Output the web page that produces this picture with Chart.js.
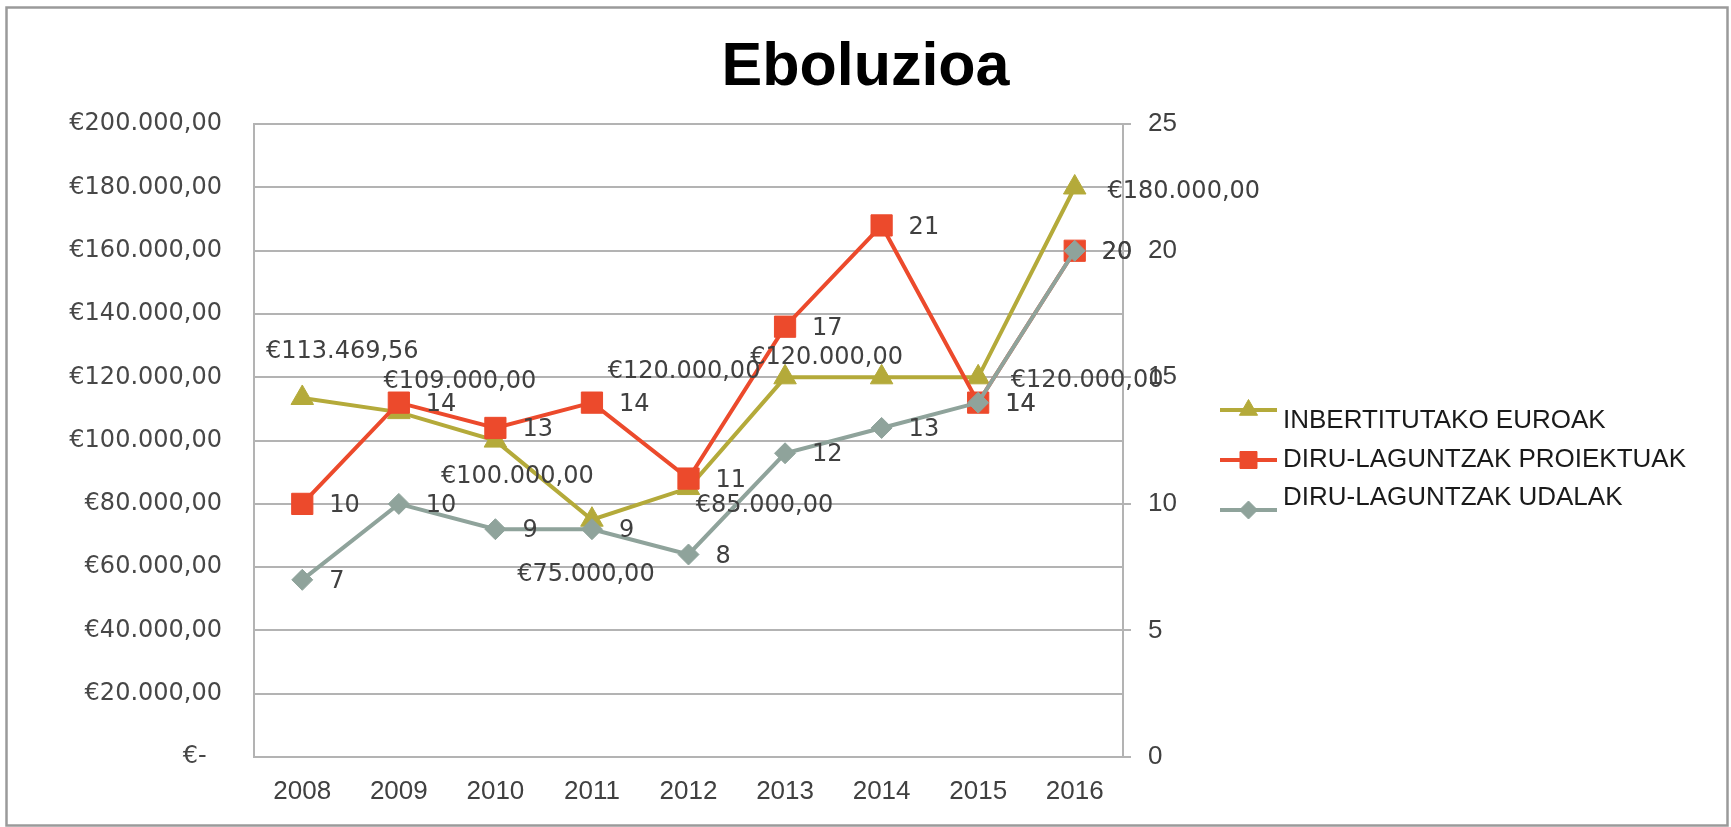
<!DOCTYPE html>
<html>
<head>
<meta charset="utf-8">
<script src="https://cdn.jsdelivr.net/npm/chart.js@4.4.1/dist/chart.umd.min.js"></script>
<style>
html,body{margin:0;padding:0;background:#ffffff;}
canvas{display:block;}
</style>
</head>
<body>
<canvas id="c" width="1731" height="827"></canvas>
<script>
// ---- data ----
const chartTitle = 'Eboluzioa';
const years = ['2008', '2009', '2010', '2011', '2012', '2013', '2014', '2015', '2016'];
const seriesNames = ['INBERTITUTAKO EUROAK', 'DIRU-LAGUNTZAK PROIEKTUAK', 'DIRU-LAGUNTZAK UDALAK'];
const euroValues = [113469.56, 109000, 100000, 75000, 85000, 120000, 120000, 120000, 180000];
const projectGrants = [10, 14, 13, 14, 11, 17, 21, 14, 20];
const townGrants = [7, 10, 9, 9, 8, 12, 13, 14, 20];
const euroAxis = [0, 200000, 20000];   // min, max, step
const countAxis = [0, 25, 5];          // min, max, step

// ---- styles ----
const OLIVE = '#b4aa3a', RED = '#ec4a2c', SAGE = '#8fa39b';
const GRID = '#b3b3b3';
const TXT = '#404040';
const ROUND_FONT = '"DejaVu Sans", sans-serif';
const ARIAL = '"Liberation Sans", Arial, sans-serif';

function euro(v) {
  if (v === 0) return '€-  ';
  const parts = v.toFixed(2).split('.');
  return '€' + parts[0].replace(/\B(?=(\d{3})+(?!\d))/g, '.') + ',' + parts[1];
}

function drawMarker(ctx, style, r, x, y) {
  if (Chart.helpers && Chart.helpers.drawPoint) {
    Chart.helpers.drawPoint(ctx, {pointStyle: style, radius: r, rotation: 0, borderWidth: 1}, x, y);
    return;
  }
  ctx.beginPath();
  if (style === 'triangle') {
    ctx.moveTo(x, y - r); ctx.lineTo(x + 0.866 * r, y + r / 2); ctx.lineTo(x - 0.866 * r, y + r / 2);
  } else if (style === 'rect') {
    const s = r * Math.SQRT1_2; ctx.rect(x - s, y - s, 2 * s, 2 * s);
  } else {
    ctx.moveTo(x, y - r); ctx.lineTo(x + r, y); ctx.lineTo(x, y + r); ctx.lineTo(x - r, y);
  }
  ctx.closePath(); ctx.fill(); ctx.stroke();
}

const framePlugin = {
  id: 'frame',
  afterDraw(chart) {
    const ctx = chart.ctx;
    ctx.save();
    ctx.strokeStyle = '#9a9a9a';
    ctx.lineWidth = 2.5;
    ctx.strokeRect(6.5, 7.5, 1721, 818);
    ctx.restore();
  }
};

const pointLabelPlugin = {
  id: 'pointLabels',
  afterDatasetsDraw(chart, args, opts) {
    const ctx = chart.ctx;
    ctx.save();
    ctx.font = '24px ' + ROUND_FONT;
    ctx.fillStyle = TXT;
    ctx.textBaseline = 'middle';
    chart.data.datasets.forEach((ds, di) => {
      const meta = chart.getDatasetMeta(di);
      meta.data.forEach((pt, i) => {
        const v = ds.data[i];
        if (di === 0) {
          const off = opts.euroOffsets[i];
          ctx.textAlign = 'center';
          ctx.fillText(euro(v), pt.x + off[0], pt.y + off[1]);
        } else {
          ctx.textAlign = 'left';
          ctx.fillText(String(v), pt.x + opts.countDx, pt.y + opts.countDy);
        }
      });
    });
    ctx.restore();
  }
};

const legendPlugin = {
  id: 'sideLegend',
  afterDraw(chart, args, opts) {
    const ctx = chart.ctx;
    ctx.save();
    chart.data.datasets.forEach((ds, i) => {
      const ly = opts.lineY[i], ty = opts.textY[i];
      ctx.strokeStyle = ds.borderColor;
      ctx.fillStyle = ds.borderColor;
      ctx.lineWidth = 4;
      ctx.beginPath();
      ctx.moveTo(opts.x0, ly); ctx.lineTo(opts.x1, ly);
      ctx.stroke();
      ctx.lineWidth = 1;
      drawMarker(ctx, ds.pointStyle, opts.radius[i], (opts.x0 + opts.x1) / 2, ly);
      ctx.fillStyle = '#1a1a1a';
      ctx.font = '26px ' + ARIAL;
      ctx.textAlign = 'left';
      ctx.textBaseline = 'middle';
      ctx.fillText(ds.label, opts.textX, ty);
    });
    ctx.restore();
  }
};

function lineSet(label, data, color, style, radius, axis, order) {
  return {
    label, data, yAxisID: axis, order,
    borderColor: color, backgroundColor: color,
    borderWidth: 4, tension: 0, fill: false,
    pointStyle: style, pointRadius: radius, pointHoverRadius: radius,
    pointBackgroundColor: color, pointBorderColor: color, pointBorderWidth: 1
  };
}

new Chart(document.getElementById('c'), {
  type: 'line',
  data: {
    labels: years,
    datasets: [
      lineSet(seriesNames[0], euroValues, OLIVE, 'triangle', 13, 'y', 3),
      lineSet(seriesNames[1], projectGrants, RED, 'rect', 15, 'y1', 2),
      lineSet(seriesNames[2], townGrants, SAGE, 'rectRot', 10.5, 'y1', 1)
    ]
  },
  plugins: [framePlugin, pointLabelPlugin, legendPlugin],
  options: {
    responsive: false,
    animation: false,
    devicePixelRatio: 1,
    layout: {padding: 0},
    plugins: {
      legend: {display: false},
      tooltip: {enabled: false},
      title: {
        display: true,
        text: chartTitle,
        color: '#000000',
        font: {family: ARIAL, size: 61, weight: 'bold'},
        padding: {top: 32, bottom: 19}
      },
      pointLabels: {
        euroOffsets: [[40, -46], [61, -30], [22, 36], [-6, 55], [76, 18], [-101, -6], [-55, -20], [109, 3], [109, 4]],
        countDx: 27,
        countDy: 2
      },
      sideLegend: {
        x0: 1220, x1: 1277, textX: 1283,
        lineY: [410, 460, 510],
        textY: [421, 460, 498],
        radius: [10.5, 12, 9]
      }
    },
    scales: {
      x: {
        type: 'category',
        offset: true,
        grid: {display: false, drawTicks: false},
        border: {display: true, color: GRID, width: 2},
        ticks: {color: TXT, font: {family: ARIAL, size: 26}, padding: 19.5, maxRotation: 0, autoSkip: false},
        afterFit(s) { s.height = 70; }
      },
      y: {
        position: 'left',
        min: euroAxis[0], max: euroAxis[1],
        ticks: {stepSize: euroAxis[2], color: '#474747', font: {family: ROUND_FONT, size: 24}, padding: 32, callback: (v) => euro(v)},
        grid: {color: GRID, lineWidth: 2, drawTicks: false},
        border: {display: true, color: GRID, width: 2},
        afterFit(s) { s.width = 254; }
      },
      y1: {
        position: 'right',
        min: countAxis[0], max: countAxis[1],
        ticks: {stepSize: countAxis[2], color: TXT, font: {family: ARIAL, size: 26}, padding: 17},
        grid: {display: true, drawOnChartArea: false, drawTicks: true, tickLength: 8, color: GRID, lineWidth: 2},
        border: {display: true, color: GRID, width: 2},
        afterFit(s) { s.width = 608; }
      }
    }
  }
});
</script>
</body>
</html>
